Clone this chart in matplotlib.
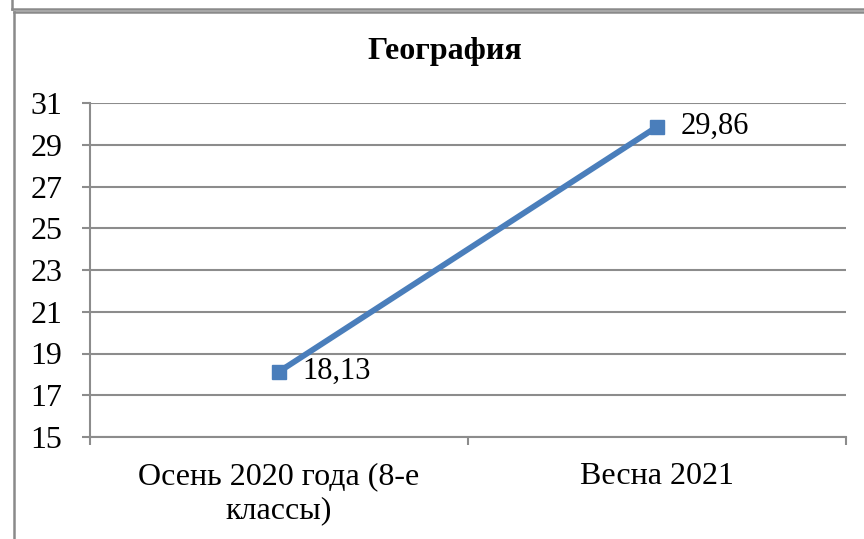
import matplotlib
matplotlib.use("Agg")
import matplotlib.pyplot as plt
from matplotlib.lines import Line2D

categories = ["Осень 2020 года (8-е\nклассы)", "Весна 2021"]
values = [18.13, 29.86]
value_labels = ["18,13", "29,86"]
yticks = [15, 17, 19, 21, 23, 25, 27, 29, 31]
title = "География"

plt.rcParams['font.family'] = ['Liberation Serif', 'DejaVu Serif']

fig = plt.figure(figsize=(8.64, 5.39), dpi=100)
W, H = 864, 539
ax = fig.add_axes([90 / W, (H - 437) / H, (846 - 90) / W, (437 - 103) / H])

grid_c = "#8c8c8c"
x = [0.5, 1.5]
ax.plot(x, values, color="#4A7EBB", lw=4.2, marker="s", markersize=9.5,
        solid_capstyle="butt", zorder=3, clip_on=False)
for xi, v, lab in zip(x, values, value_labels):
    ax.annotate(lab, (xi, v), xytext=(17, 0), textcoords="offset points",
                ha="left", va="center", fontsize=22)

ax.set_xlim(0, 2)
ax.set_ylim(15, 31)
ax.set_yticks(yticks)
ax.set_yticklabels([str(t) for t in yticks], fontsize=23)
ax.yaxis.grid(True, color=grid_c, lw=1.5)
ax.set_axisbelow(True)
ax.set_xticks([0, 1, 2])
ax.set_xticklabels([])
ax.set_xticks(x, minor=True)
ax.set_xticklabels(categories, minor=True, fontsize=23, linespacing=1.22)
ax.tick_params(axis="x", which="minor", length=0, pad=18)
ax.tick_params(axis="x", which="major", length=5.8, width=1.5, color=grid_c, direction="out")
ax.tick_params(axis="y", length=5.8, width=1.5, color=grid_c, direction="out", pad=14)
for s in ["top", "right"]:
    ax.spines[s].set_visible(False)
for s in ["left", "bottom"]:
    ax.spines[s].set_color(grid_c)
    ax.spines[s].set_linewidth(1.5)

fig.text(445 / W, 1 - 52 / H, title, ha="center", va="center",
         fontsize=23, fontweight="bold")

# frame borders (screenshot edges)
bc = "#8a8a8a"
def px_line(x0, y0, x1, y1):
    fig.add_artist(Line2D([x0 / W, x1 / W], [1 - y0 / H, 1 - y1 / H],
                          transform=fig.transFigure, color=bc, lw=1.8))
px_line(12, 0, 12, 8.5)
px_line(12, 8.5, W, 8.5)
px_line(14, 12, W, 12)
px_line(14, 12, 14, H)

fig.savefig("out.png", dpi=100, facecolor="white")
